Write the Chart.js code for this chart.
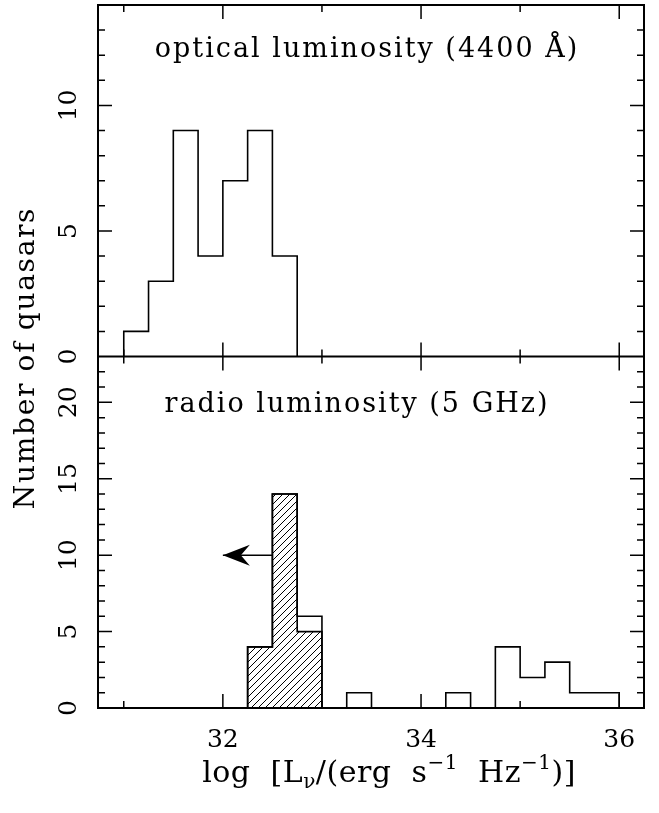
<!DOCTYPE html>
<html>
<head>
<meta charset="utf-8">
<script src="https://cdn.jsdelivr.net/npm/chart.js@4/dist/chart.umd.min.js"></script>
<style>
  html, body { margin: 0; padding: 0; background: #fff; }
  canvas { display: block; }
</style>
</head>
<body>
<canvas id="chart" width="659" height="813" style="width:659px;height:813px"></canvas>
<script>
// Histogram bins (left edges, log L_nu) and counts; every bin is 0.25 dex wide
const binWidth = 0.25;

const opticalEdges  = [31.0, 31.25, 31.5, 31.75, 32.0, 32.25, 32.5];
const opticalCounts = [1, 3, 9, 4, 7, 9, 4];

const radioEdges  = [32.25, 32.5, 32.75, 33.0, 33.25, 33.5, 33.75, 34.0, 34.25, 34.5, 34.75, 35.0, 35.25, 35.5, 35.75];
const radioCounts = [4, 14, 6, 0, 1, 0, 0, 0, 1, 0, 4, 2, 3, 1, 1];

// radio upper limits (hatched part)
const limitEdges  = [32.25, 32.5, 32.75];
const limitCounts = [4, 14, 5];

// arrow showing that the hatched values are upper limits
const arrowX = [32.5, 32.0];
const arrowY = [10, 10];

// axis ranges and labelled ticks
const xRange = [30.74, 36.25];
const opticalRange = [0, 14];
const radioRange = [0, 23];
const xTicks = [32, 34, 36];
const opticalTicks = [0, 5, 10];
const radioTicks = [0, 5, 10, 15, 20];

const SERIF = "'DejaVu Serif', 'Liberation Serif', serif";

// outline of a histogram as a stepped line
function stepPoints(edges, counts) {
  const pts = [{ x: edges[0], y: 0 }];
  edges.forEach((e, i) => pts.push({ x: e, y: counts[i] }));
  pts.push({ x: edges[edges.length - 1] + binWidth, y: 0 });
  return pts;
}

function hatchPattern(step) {
  const c = document.createElement('canvas');
  c.width = c.height = step;
  const g = c.getContext('2d');
  g.strokeStyle = '#000';
  g.lineWidth = 1;
  g.beginPath();
  g.moveTo(0, step); g.lineTo(step, 0);
  g.moveTo(-1, 1); g.lineTo(1, -1);
  g.moveTo(step - 1, step + 1); g.lineTo(step + 1, step - 1);
  g.stroke();
  return g.createPattern(c, 'repeat');
}

function fixedTicks(values) {
  return scale => { scale.ticks = values.map(v => ({ value: v })); };
}

function spacedText(ctx, text, x, y, font, spacing) {
  ctx.font = font;
  ctx.letterSpacing = spacing + 'px';
  ctx.fillText(text, x, y);
  ctx.letterSpacing = '0px';
}

// inward ticks, frame, arrow head and text labels
const decorations = {
  id: 'decorations',
  afterDatasetsDraw(chart) {
    const ctx = chart.ctx;
    const meta = chart.getDatasetMeta(3);
    const tip = meta.data[1];
    ctx.save();
    ctx.fillStyle = '#000';
    ctx.beginPath();
    ctx.moveTo(tip.x, tip.y);
    ctx.lineTo(tip.x + 27, tip.y - 10.5);
    ctx.lineTo(tip.x + 18, tip.y);
    ctx.lineTo(tip.x + 27, tip.y + 10.5);
    ctx.closePath();
    ctx.fill();
    ctx.restore();
  },
  afterDraw(chart) {
    const ctx = chart.ctx;
    const xs = chart.scales.x;
    const panels = [chart.scales.yTop, chart.scales.yBot];
    const left = chart.chartArea.left, right = chart.chartArea.right;
    const major = 14, minor = 7;
    ctx.save();
    ctx.strokeStyle = '#000';
    ctx.lineCap = 'butt';

    // tick marks
    ctx.lineWidth = 1.5;
    ctx.beginPath();
    panels.forEach(ys => {
      const top = ys.top, bottom = ys.bottom;
      for (let v = Math.ceil(ys.min) + 1; v < ys.max; v++) {
        const py = ys.getPixelForValue(v);
        const len = v % 5 === 0 ? major : minor;
        ctx.moveTo(left, py); ctx.lineTo(left + len, py);
        ctx.moveTo(right, py); ctx.lineTo(right - len, py);
      }
      for (let v = Math.ceil(xs.min); v <= xs.max; v++) {
        const px = xs.getPixelForValue(v);
        const len = v % 2 === 0 ? major : minor;
        ctx.moveTo(px, top); ctx.lineTo(px, top + len);
        ctx.moveTo(px, bottom); ctx.lineTo(px, bottom - len);
      }
    });
    ctx.stroke();

    // frame of both panels
    ctx.lineWidth = 2;
    ctx.strokeRect(left, chart.chartArea.top, right - left, chart.chartArea.bottom - chart.chartArea.top);
    ctx.beginPath();
    ctx.moveTo(left, chart.scales.yTop.bottom);
    ctx.lineTo(right, chart.scales.yTop.bottom);
    ctx.stroke();

    // panel captions
    ctx.fillStyle = '#000';
    ctx.textAlign = 'center';
    ctx.textBaseline = 'alphabetic';
    spacedText(ctx, 'optical luminosity (4400 Å)', 367, 57, '27px ' + SERIF, 2);
    spacedText(ctx, 'radio luminosity (5 GHz)', 357, 412, '27px ' + SERIF, 2);

    // y axis title
    ctx.save();
    ctx.translate(34, 358);
    ctx.rotate(-Math.PI / 2);
    spacedText(ctx, 'Number of quasars', 0, 0, '28px ' + SERIF, 1.7);
    ctx.restore();

    // x axis title with subscript and superscripts
    const big = '30px ' + SERIF, small = '20px ' + SERIF;
    const parts = [
      ['log  [L', big, 0],
      ['\u03BD', small, 6],
      ['/(erg  s', big, 0],
      ['\u22121', small, -13],
      ['  Hz', big, 0],
      ['\u22121', small, -13],
      [')]', big, 0]
    ];
    ctx.letterSpacing = '0.5px';
    let total = 0;
    parts.forEach(p => { ctx.font = p[1]; total += ctx.measureText(p[0]).width; });
    let x = 389 - total / 2;
    ctx.textAlign = 'left';
    parts.forEach(p => {
      ctx.font = p[1];
      ctx.fillText(p[0], x, 782 + p[2]);
      x += ctx.measureText(p[0]).width;
    });
    ctx.letterSpacing = '0px';
    ctx.restore();
  }
};

const ctx = document.getElementById('chart').getContext('2d');
const hatch = hatchPattern(7);
const tickFont = { family: SERIF, size: 25 };

new Chart(ctx, {
  type: 'line',
  data: {
    datasets: [
      {
        data: stepPoints(opticalEdges, opticalCounts),
        yAxisID: 'yTop', stepped: 'before',
        borderColor: '#000', borderWidth: 1.6, pointRadius: 0, fill: false
      },
      {
        data: stepPoints(limitEdges, limitCounts),
        yAxisID: 'yBot', stepped: 'before',
        borderColor: '#000', borderWidth: 1.6, pointRadius: 0,
        fill: 'origin', backgroundColor: hatch
      },
      {
        data: stepPoints(radioEdges, radioCounts),
        yAxisID: 'yBot', stepped: 'before',
        borderColor: '#000', borderWidth: 1.6, pointRadius: 0, fill: false
      },
      {
        data: arrowX.map((v, i) => ({ x: v, y: arrowY[i] })),
        yAxisID: 'yBot',
        borderColor: '#000', borderWidth: 1.5, pointRadius: 0, fill: false
      }
    ]
  },
  options: {
    responsive: false,
    animation: false,
    devicePixelRatio: 1,
    events: [],
    layout: { padding: { left: 0, right: 15, top: 5, bottom: 0 } },
    plugins: { legend: { display: false }, tooltip: { enabled: false } },
    scales: {
      x: {
        type: 'linear', min: xRange[0], max: xRange[1],
        grid: { display: false, drawTicks: false },
        border: { display: false },
        afterBuildTicks: fixedTicks(xTicks),
        ticks: { font: tickFont, color: '#000', padding: 17, maxRotation: 0 },
        afterFit: s => { s.height = 813 - 708; s.paddingLeft = 0; s.paddingRight = 0; }
      },
      yBot: {
        type: 'linear', position: 'left', stack: 'panels', stackWeight: 1,
        min: radioRange[0], max: radioRange[1],
        grid: { display: false, drawTicks: false },
        border: { display: false },
        afterBuildTicks: fixedTicks(radioTicks),
        ticks: { font: tickFont, color: '#000', minRotation: 90, maxRotation: 90, crossAlign: 'center', padding: 13 },
        afterFit: s => { s.width = 98; s.paddingTop = 0; s.paddingBottom = 0; }
      },
      yTop: {
        type: 'linear', position: 'left', stack: 'panels', stackWeight: 1,
        min: opticalRange[0], max: opticalRange[1],
        grid: { display: false, drawTicks: false },
        border: { display: false },
        afterBuildTicks: fixedTicks(opticalTicks),
        ticks: { font: tickFont, color: '#000', minRotation: 90, maxRotation: 90, crossAlign: 'center', padding: 13 },
        afterFit: s => { s.width = 98; s.paddingTop = 0; s.paddingBottom = 0; }
      }
    }
  },
  plugins: [decorations]
});
</script>
</body>
</html>
